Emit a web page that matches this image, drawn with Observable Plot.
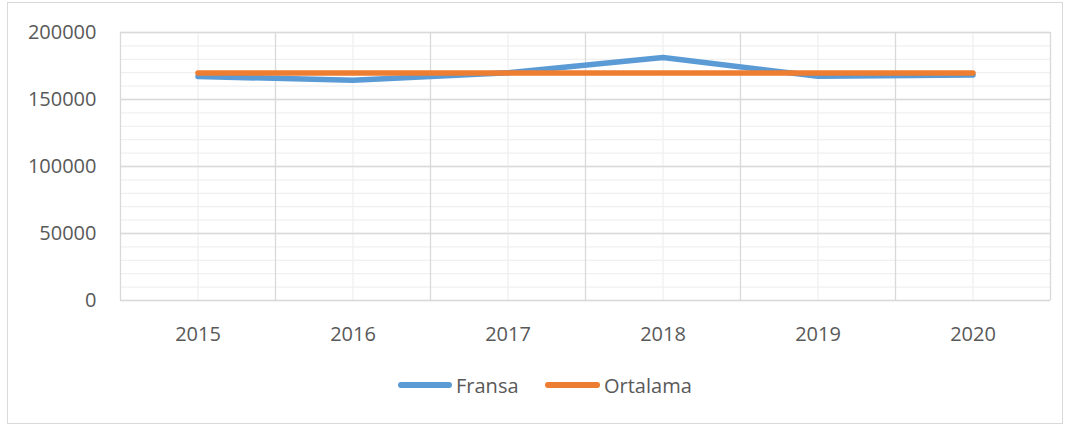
<!DOCTYPE html>
<html>
<head>
<meta charset="utf-8">
<script src="https://cdn.jsdelivr.net/npm/d3@7"></script>
<script src="https://cdn.jsdelivr.net/npm/@observablehq/plot@0.6"></script>
<style>
  html, body { margin: 0; padding: 0; background: #fff; }
  #wrap { position: relative; width: 1070px; height: 428px; overflow: hidden; font-family: "Open Sans", sans-serif; }
  #frame { position: absolute; left: 7px; top: 2px; width: 1054px; height: 420px; border: 1.5px solid #d9d9d9; }
  #chart { position: absolute; left: 0; top: 0; }
  #legend { position: absolute; left: 0; top: 372px; width: 1070px; height: 26px; font-size: 20px; color: #595959; }
  .item { position: absolute; top: 0; height: 26px; display: flex; align-items: center; }
  .sw { display: inline-block; height: 5.5px; border-radius: 3px; margin-right: 4px; }
</style>
</head>
<body>
<div id="wrap">
  <div id="frame"></div>
  <div id="chart"></div>
  <div id="legend"></div>
</div>
<script>
const years = ["2015", "2016", "2017", "2018", "2019", "2020"];
const fransa = [167200, 164300, 170000, 181300, 167300, 168300];
const ortalama = [169700, 169700, 169700, 169700, 169700, 169700];
const seriesNames = ["Fransa", "Ortalama"];
const seriesColors = ["#5b9bd5", "#ed7d31"];
const yTicks = [0, 50000, 100000, 150000, 200000];
const yMinor = d3.range(0, 200001, 10000);

const idx = years.map((_, i) => i);
const bounds = d3.range(-0.5, years.length, 1);
const fransaRows = years.map((y, i) => ({ i, year: y, value: fransa[i] }));
const ortalamaRows = years.map((y, i) => ({ i, year: y, value: ortalama[i] }));

const chart = Plot.plot({
  width: 1070,
  height: 350,
  marginLeft: 120,
  marginRight: 20,
  marginTop: 32,
  marginBottom: 50,
  style: { fontFamily: "Open Sans, sans-serif", fontSize: "20px", color: "#595959", background: "transparent" },
  x: { domain: [-0.5, years.length - 0.5], ticks: idx, tickFormat: i => years[i], tickSize: 0, tickPadding: 26, label: null },
  y: { domain: [0, 200000], ticks: yTicks, tickFormat: d => String(d), tickSize: 0, tickPadding: 24, label: null },
  marks: [
    Plot.ruleY(yMinor, { stroke: "#f0f0f0", strokeWidth: 1.3 }),
    Plot.ruleX(idx, { stroke: "#f0f0f0", strokeWidth: 1.3 }),
    Plot.ruleY(yTicks, { stroke: "#d9d9d9", strokeWidth: 1.3 }),
    Plot.ruleX(bounds, { stroke: "#d9d9d9", strokeWidth: 1.3 }),
    Plot.line(fransaRows, { x: "i", y: "value", stroke: seriesColors[0], strokeWidth: 5.5, strokeLinecap: "round", strokeLinejoin: "round" }),
    Plot.line(ortalamaRows, { x: "i", y: "value", stroke: seriesColors[1], strokeWidth: 5.5, strokeLinecap: "round", strokeLinejoin: "round" })
  ]
});
document.getElementById("chart").appendChild(chart);

const legend = document.getElementById("legend");
const legendPos = [{ left: 398, sw: 54 }, { left: 545, sw: 55 }];
seriesNames.forEach((name, k) => {
  const item = document.createElement("div");
  item.className = "item";
  item.style.left = legendPos[k].left + "px";
  const sw = document.createElement("span");
  sw.className = "sw";
  sw.style.width = legendPos[k].sw + "px";
  sw.style.background = seriesColors[k];
  const t = document.createElement("span");
  t.textContent = name;
  item.appendChild(sw);
  item.appendChild(t);
  legend.appendChild(item);
});
</script>
</body>
</html>
